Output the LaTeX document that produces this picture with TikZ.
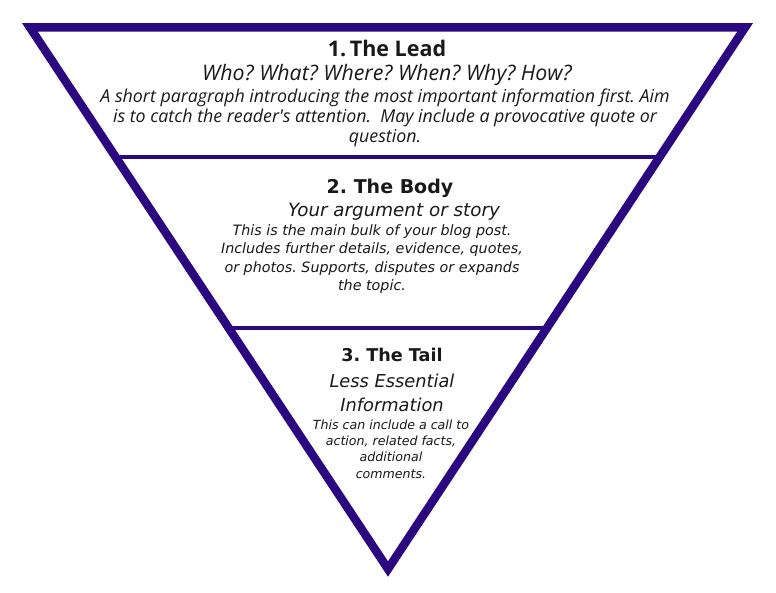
\documentclass[tikz,border=0pt]{standalone}
\usepackage{fontspec}
\setmainfont{DejaVu Sans}
\newfontfamily\leadfont{Open Sans}
\usetikzlibrary{calc}
\definecolor{funnelpurple}{RGB}{43,8,128}
\definecolor{inktext}{RGB}{25,25,25}
\frenchspacing

\tikzset{
  funnel/.style={draw=funnelpurple, line width=8.5pt, line join=miter},
  divider/.style={draw=funnelpurple, line width=3.5pt},
  parttitle/.style={anchor=base, inner sep=0pt, text=inktext},
  parttext/.style={anchor=base, inner sep=0pt, align=center, text=inktext}
}

\begin{document}
\begin{tikzpicture}[x=1pt,y=-1pt]
        \useasboundingbox (0,0) rectangle (776,593);
        \fill[white] (0,0) rectangle (776,593);

        % the funnel
        \coordinate (tl) at (30,27.5);
        \coordinate (tr) at (745,27.5);
        \coordinate (tip) at (388,569);
        \draw[funnel] (tl) -- (tr) -- (tip) -- cycle;
        \draw[divider] ($(tl)!0.2391!(tip)$) -- ($(tr)!0.2391!(tip)$);
        \draw[divider] ($(tl)!0.5549!(tip)$) -- ($(tr)!0.5549!(tip)$);

        % 1. the lead (text nodes sit on the baseline of their last line)
        \node[parttitle, font=\leadfont\bfseries\fontsize{21.5}{22}\selectfont] (leadtitle) at (387,57) {1.\,The Lead};
        \node[parttitle, font=\leadfont\itshape\fontsize{21.3}{22}\selectfont] (leadsub) at (387,81) {Who? What? Where? When? Why? How?};
        \node[parttext, font=\leadfont\itshape\fontsize{17.8}{20}\selectfont] (leadtext) at (385,143)
            {A short paragraph introducing the most important information first. Aim\\
             is to catch the reader's attention.\ \ May include a provocative quote or\\
             question.};

        % 2. the body
        \node[parttitle, font=\bfseries\fontsize{19}{22}\selectfont] (bodytitle) at (390,194) {2. The Body};
        \node[parttitle, font=\itshape\fontsize{18.3}{22}\selectfont] (bodysub) at (394,217) {Your argument or story};
        \node[parttext, font=\itshape\fontsize{14.3}{18.5}\selectfont] (bodytext) at (372,291)
            {This is the main bulk of your blog post.\\
             Includes further details, evidence, quotes,\\
             or photos. Supports, disputes or expands\\
             the topic.};

        % 3. the tail
        \node[parttitle, font=\bfseries\fontsize{17.6}{20}\selectfont] (tailtitle) at (392,362) {3. The Tail};
        \node[parttext, font=\itshape\fontsize{17.8}{24}\selectfont] (tailsub) at (392,411) {Less Essential\\ Information};
        \node[parttext, font=\itshape\fontsize{12.6}{16.3}\selectfont] (tailtext) at (391,478)
            {This can include a call to\\
             action, related facts,\\
             additional\\
             comments.};
\end{tikzpicture}
\end{document}
